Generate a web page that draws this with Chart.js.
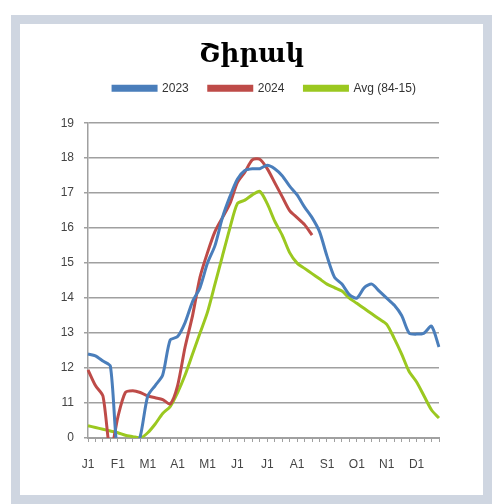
<!DOCTYPE html>
<html>
<head>
<meta charset="utf-8">
<script src="https://cdn.jsdelivr.net/npm/chart.js@4/dist/chart.umd.min.js"></script>
<style>
  html, body { margin: 0; padding: 0; background: #ffffff; width: 495px; height: 504px; overflow: hidden; }
  #frame { position: absolute; left: 11px; top: 15px; width: 463px; height: 471px; border: 9px solid #cfd6e1; border-bottom-width: 10px; background: #fff; }
  #wrap { position: absolute; left: 0; top: 0; width: 463px; height: 471px; }
</style>
</head>
<body>
<div id="frame"><div id="wrap"><canvas id="c" width="463" height="471"></canvas></div></div>
<script>
const titleText = 'Շիրակ';
const monthLabels = ['J1','F1','M1','A1','M1','J1','J1','A1','S1','O1','N1','D1'];
const pointsPerMonth = 4;
const categories = [];
monthLabels.forEach(m => { categories.push(m); for (let k = 1; k < pointsPerMonth; k++) categories.push(''); });

const yTickLabels = ['0','11','12','13','14','15','16','17','18','19'];

const series2023 = [12.4,12.35,12.2,12.05,9.5,9.5,9.6,10.05,11.2,11.5,11.8,12.8,
  12.9,13.3,13.9,14.3,15.0,15.5,16.3,16.9,17.4,17.65,17.7,17.7,
  17.8,17.7,17.5,17.2,16.95,16.6,16.3,15.9,15.2,14.6,14.4,14.1,
  14.0,14.3,14.4,14.2,14.0,13.8,13.5,13.0,12.97,13.0,13.2,12.6];
const series2024 = [11.95,11.5,11.2,9.6,10.6,11.3,11.35,11.3,11.2,11.15,11.1,10.97,
  11.5,12.6,13.5,14.6,15.3,15.9,16.3,16.7,17.3,17.6,17.95,17.97,
  17.7,17.3,16.9,16.5,16.3,16.1,15.8,null,null,null,null,null,
  null,null,null,null,null,null,null,null,null,null,null,null];
const seriesAvg = [10.35,10.3,10.25,10.2,10.15,10.08,10.04,10.0,10.15,10.4,10.7,10.9,
  11.3,11.8,12.4,13.0,13.6,14.4,15.2,16.0,16.7,16.8,16.95,17.05,
  16.7,16.2,15.8,15.3,15.0,14.85,14.7,14.55,14.4,14.3,14.2,14.0,
  13.85,13.7,13.55,13.4,13.25,12.85,12.4,11.9,11.6,11.2,10.8,10.57];

const ds = (label, data, color) => ({
  label, data, borderColor: color, backgroundColor: color,
  borderWidth: 3, pointRadius: 0, tension: 0.25, spanGaps: false, fill: false
});

const legendShift = {
  id: 'legendShift',
  afterLayout(chart) {
    const lg = chart.legend;
    if (!lg) return;
    const dx = 13, dy = -19;
    lg.left += dx; lg.right += dx;
    lg.top += dy; lg.bottom += dy;
  }
};

new Chart(document.getElementById('c'), {
  type: 'line',
  data: {
    labels: categories,
    datasets: [
      ds('2023', series2023, '#4a7ebb'),
      ds('2024', series2024, '#be4b48'),
      ds('Avg (84-15)', seriesAvg, '#9bc820')
    ]
  },
  plugins: [legendShift],
  options: {
    responsive: false,
    animation: false,
    devicePixelRatio: 1,
    layout: { padding: 0 },
    plugins: {
      title: {
        display: true, text: titleText, color: '#000',
        font: { family: 'DejaVu Serif', size: 26, weight: 'bold' },
        padding: { top: 16, bottom: 10 }
      },
      legend: {
        display: true,
        labels: {
          color: '#333', boxWidth: 43, boxHeight: 4, padding: 20,
          font: { family: 'Liberation Sans', size: 12 }
        }
      },
      tooltip: { enabled: false }
    },
    scales: {
      x: {
        type: 'category',
        offset: false,
        grid: { display: true, drawOnChartArea: false, drawTicks: true, tickLength: 4, color: '#a0a0a0', lineWidth: 1 },
        border: { display: true, color: '#a0a0a0', width: 2 },
        ticks: {
          autoSkip: false, maxRotation: 0, minRotation: 0, padding: 15,
          color: '#444', font: { family: 'Liberation Sans', size: 12 },
          callback: (v, i) => categories[i]
        },
        afterFit: s => { s.height = 57; }
      },
      y: {
        type: 'linear', min: 10, max: 19,
        grid: { color: '#a0a0a0', lineWidth: 1.5, tickLength: 4 },
        border: { display: true, color: '#a0a0a0', width: 1.5 },
        ticks: {
          stepSize: 1, padding: 10,
          color: '#444', font: { family: 'Liberation Sans', size: 12 },
          callback: (v, i) => yTickLabels[i]
        },
        afterFit: s => { s.width = 68; }
      },
      yR: {
        type: 'linear', position: 'right', display: true, min: 10, max: 19,
        grid: { display: false, drawOnChartArea: false },
        border: { display: false },
        ticks: { display: false },
        afterFit: s => { s.width = 44; }
      }
    }
  }
});
</script>
</body>
</html>
